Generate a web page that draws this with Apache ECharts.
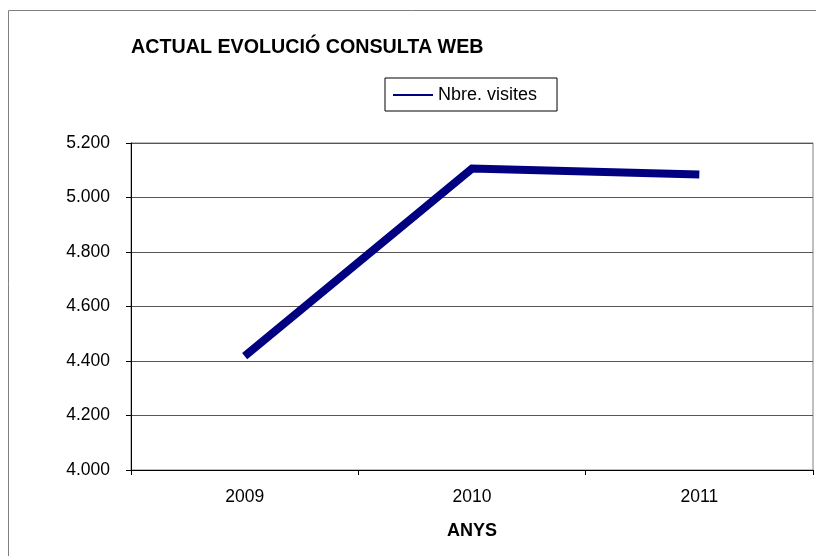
<!DOCTYPE html>
<html>
<head>
<meta charset="utf-8">
<script src="https://cdn.jsdelivr.net/npm/echarts@6/dist/echarts.min.js"></script>
<style>
  html, body { margin: 0; padding: 0; background: #fff; }
  #box { width: 816px; height: 556px; }
</style>
</head>
<body>
<div id="box"></div>
<script>
var years = ['2009', '2010', '2011'];
var visites = [4418, 5106, 5084];
var yMin = 4000, yMax = 5200, yStep = 200;

var font = 'Liberation Sans, Arial, sans-serif';
var myChart = echarts.init(document.getElementById('box'));
var option = {
    animation: false,
    backgroundColor: '#fff',
    title: {
        text: 'ACTUAL EVOLUCIÓ CONSULTA WEB',
        left: 126,
        top: 33,
        textStyle: { fontFamily: font, fontSize: 19.7, fontWeight: 'bold', color: '#000' }
    },
    legend: {
        data: ['Nbre. visites'],
        left: 385,
        top: 78,
        padding: [8, 20, 7, 8],
        borderColor: '#000',
        borderWidth: 1,
        itemWidth: 40,
        itemHeight: 2,
        itemGap: 4,
        icon: 'rect',
        textStyle: { fontFamily: font, fontSize: 18, color: '#000' }
    },
    grid: {
        left: 131,
        right: 3,
        top: 143,
        bottom: 86,
        show: true,
        borderColor: '#808080',
        borderWidth: 1
    },
    xAxis: {
        type: 'category',
        data: years,
        boundaryGap: true,
        name: 'ANYS',
        nameLocation: 'middle',
        nameGap: 52,
        nameTextStyle: { fontFamily: font, fontSize: 18, fontWeight: 'bold', color: '#000' },
        axisLine: { lineStyle: { color: '#000', width: 1 } },
        axisTick: { show: true, length: 5, lineStyle: { color: '#000' } },
        axisLabel: { fontFamily: font, fontSize: 17.5, color: '#000', margin: 18 }
    },
    yAxis: {
        type: 'value',
        min: yMin,
        max: yMax,
        interval: yStep,
        axisLine: { show: true, lineStyle: { color: '#000', width: 1 } },
        axisTick: { show: true, length: 5, lineStyle: { color: '#000' } },
        splitLine: { lineStyle: { color: '#555', width: 1 } },
        axisLabel: {
            fontFamily: font, fontSize: 17.5, color: '#000', margin: 21,
            formatter: function (v) { return (v / 1000).toFixed(3); }
        }
    },
    series: [{
        name: 'Nbre. visites',
        type: 'line',
        data: visites,
        symbol: 'none',
        color: '#000080',
        lineStyle: { width: 8, color: '#000080', cap: 'butt', join: 'miter' }
    }],
    graphic: [{
        type: 'rect',
        shape: { x: 8.5, y: 10.5, width: 830, height: 570 },
        style: { fill: 'none', stroke: '#808080', lineWidth: 1 },
        z: 100
    }]
};
myChart.setOption(option);
</script>
</body>
</html>
